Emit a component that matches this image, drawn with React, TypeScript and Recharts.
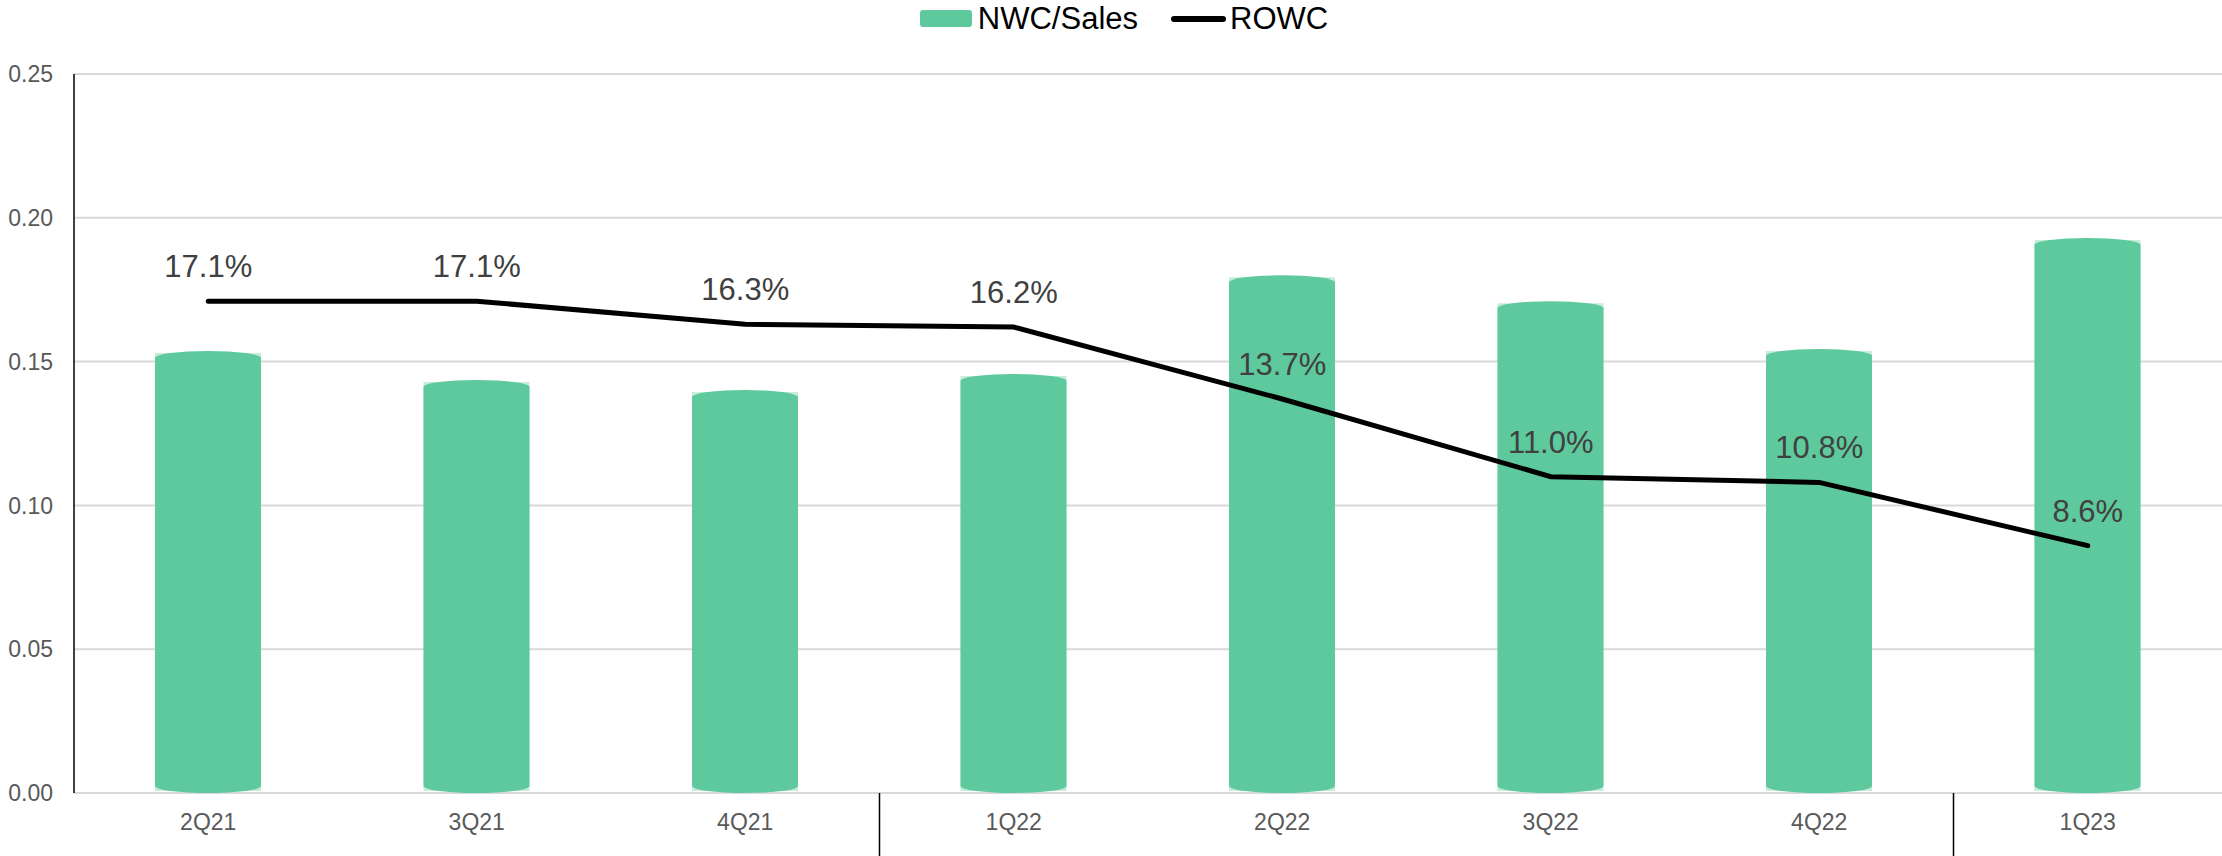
import React from "react";
import {
	ComposedChart,
	Bar,
	Line,
	XAxis,
	YAxis,
	CartesianGrid,
	Legend,
	LabelList,
} from "recharts";

const quarters = ["2Q21", "3Q21", "4Q21", "1Q22", "2Q22", "3Q22", "4Q22", "1Q23"];
const nwcSales = [0.1537, 0.1436, 0.1401, 0.1457, 0.18, 0.171, 0.1544, 0.193];
const rowc = [0.171, 0.171, 0.163, 0.162, 0.137, 0.11, 0.108, 0.086];
const yTicks = [0, 0.05, 0.1, 0.15, 0.2, 0.25];
// year boundaries get a divider below the axis
const yearStarts = ["1Q22", "1Q23"];

const data = quarters.map((q, i) => ({ q, nwc: nwcSales[i], rowc: rowc[i] }));

const FONT = '"Liberation Sans", Arial, sans-serif';
const GREEN = "#5ec99c";

// bar with slightly curved (cylinder-like) top and bottom
const CapBar = (props: any) => {
	const { x, y, width, height, fill } = props;
	if (!height || height <= 0) return null;
	const rx = width / 2;
	const ry = 7;
	const d = [
		`M ${x} ${y + ry}`,
		`A ${rx} ${ry} 0 0 1 ${x + width} ${y + ry}`,
		`L ${x + width} ${y + height - ry}`,
		`A ${rx} ${ry} 0 0 1 ${x} ${y + height - ry}`,
		"Z",
	].join(" ");
	return (
		<g>
			<rect x={x} y={y + 2} width={width} height={height - 4} fill={fill} opacity={0.35} />
			<path d={d} fill={fill} />
		</g>
	);
};

const QuarterTick = (props: any) => {
	const { x, y, payload } = props;
	const half = payload.offset || 0;
	return (
		<g>
			<text
				x={x}
				y={y + 37}
				textAnchor="middle"
				fontSize={23}
				fill="#595959"
				fontFamily={FONT}
			>
				{payload.value}
			</text>
			{yearStarts.includes(payload.value) && (
				<line
					x1={x - half}
					x2={x - half}
					y1={y}
					y2={y + 63}
					stroke="#000"
					strokeWidth={1.5}
				/>
			)}
		</g>
	);
};

const RowcLabel = (props: any) => {
	const { x, y, value } = props;
	return (
		<text
			x={x}
			y={y - 24}
			textAnchor="middle"
			fontSize={31}
			fill="#404040"
			fontFamily={FONT}
		>
			{(value * 100).toFixed(1) + "%"}
		</text>
	);
};

const LegendContent = () => (
	<div
		style={{
			display: "flex",
			justifyContent: "center",
			alignItems: "center",
			fontFamily: FONT,
			fontSize: 31,
			color: "#000",
			height: 37,
			paddingLeft: 26,
		}}
	>
		<span
			style={{
				display: "inline-block",
				width: 52,
				height: 17,
				background: GREEN,
				borderRadius: 3,
				marginRight: 6,
			}}
		/>
		<span style={{ marginRight: 33 }}>NWC/Sales</span>
		<span
			style={{
				display: "inline-block",
				width: 55,
				height: 6,
				background: "#000",
				borderRadius: 3,
				marginRight: 4,
			}}
		/>
		<span>ROWC</span>
	</div>
);

const App = () => {
	return (
		<div style={{ position: "absolute", left: 0, top: 0, width: 2222, height: 856 }}>
			<ComposedChart
				width={2222}
				height={856}
				data={data}
				margin={{ top: 74, right: 0, left: 0, bottom: 0 }}
				style={{ fontFamily: FONT }}
			>
				<CartesianGrid vertical={false} stroke="#d9d9d9" strokeWidth={2} />
				<XAxis
					dataKey="q"
					height={63}
					axisLine={false}
					tickLine={false}
					tickSize={0}
					tickMargin={0}
					interval={0}
					tick={<QuarterTick />}
				/>
				<YAxis
					width={74}
					domain={[0, 0.25]}
					ticks={yTicks}
					tickFormatter={(v: number) => v.toFixed(2)}
					axisLine={{ stroke: "#000", strokeWidth: 1.5 }}
					tickLine={false}
					tickMargin={15}
					tick={{ fontSize: 23, fill: "#595959", fontFamily: FONT }}
				/>
				<Legend
					verticalAlign="middle"
					align="center"
					content={<LegendContent />}
					wrapperStyle={{ top: 0, left: 0, width: 2222 }}
				/>
				<Bar
					dataKey="nwc"
					name="NWC/Sales"
					fill={GREEN}
					barSize={106}
					shape={<CapBar />}
					isAnimationActive={false}
				/>
				<Line
					dataKey="rowc"
					name="ROWC"
					stroke="#000"
					strokeWidth={5}
					strokeLinecap="round"
					dot={false}
					activeDot={false}
					isAnimationActive={false}
				>
					<LabelList dataKey="rowc" content={<RowcLabel />} />
				</Line>
			</ComposedChart>
		</div>
	);
};

export default App;
